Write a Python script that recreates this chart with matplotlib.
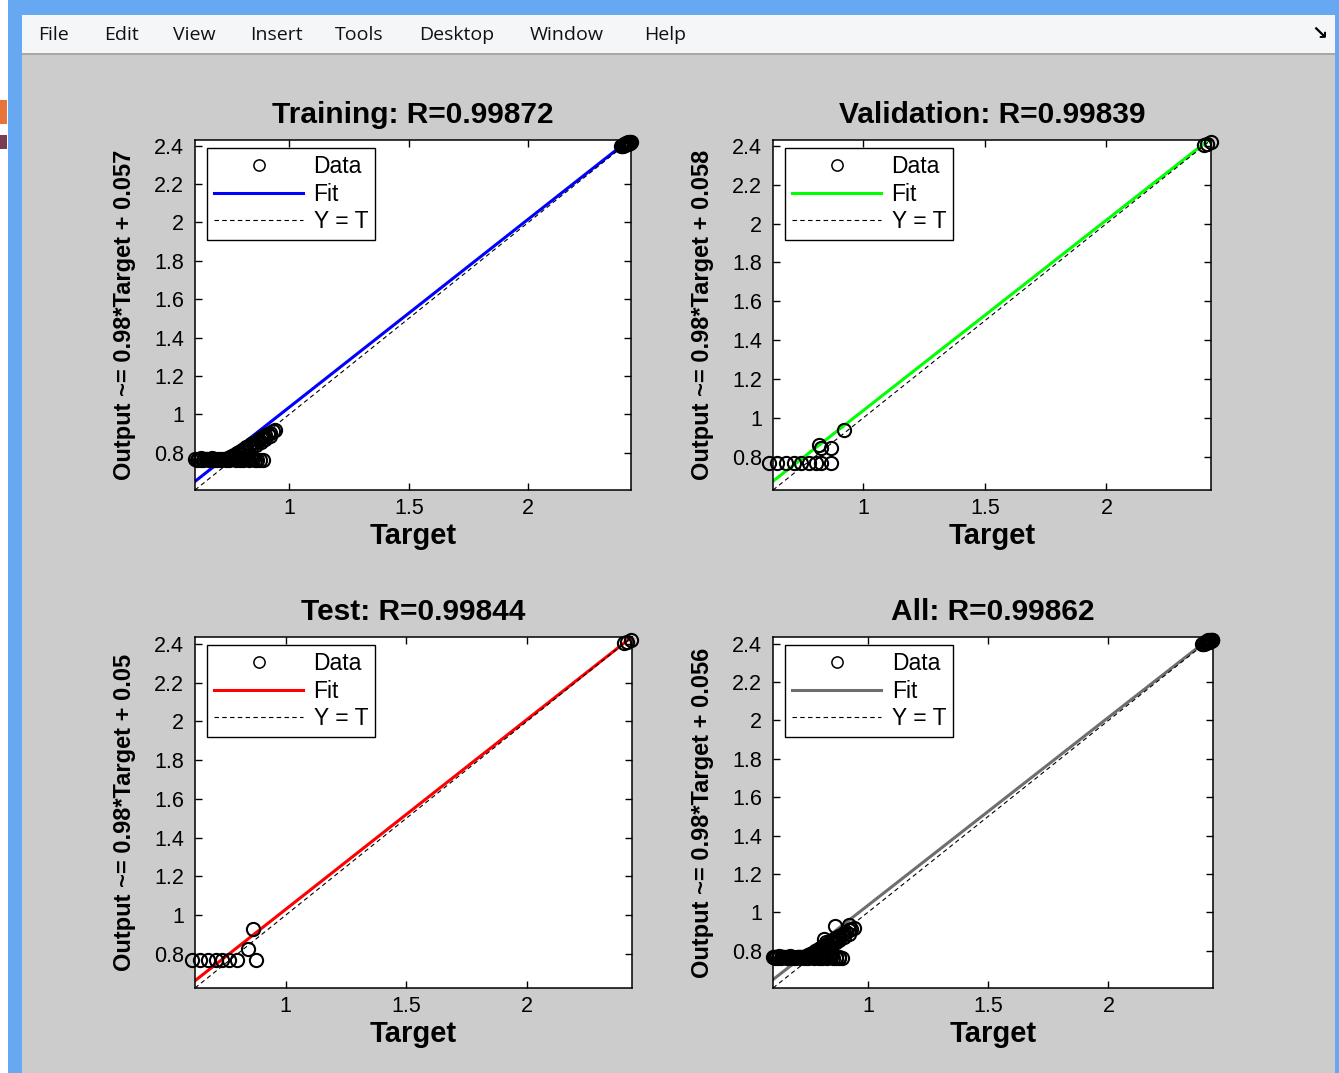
"""MATLAB-style regression plots (Training / Validation / Test / All) inside a
window frame, redrawn with matplotlib."""

import numpy as np
import matplotlib
matplotlib.use("Agg")
import matplotlib.pyplot as plt
from matplotlib.patches import Rectangle
from matplotlib.ticker import FormatStrFormatter

plt.rcParams["font.family"] = ["Liberation Sans", "DejaVu Sans"]

# ---- data ----------------------------------------------------------------
# training: flat plateau, rising band, cluster at the top end
train_t = [0.605, 0.612, 0.618, 0.625, 0.631, 0.638, 0.644, 0.651, 0.657, 0.664,
           0.670, 0.677, 0.683, 0.690, 0.697, 0.703, 0.710, 0.716, 0.723, 0.730,
           0.736, 0.743, 0.749, 0.756, 0.762, 0.769, 0.775, 0.782, 0.788, 0.795,
           0.801, 0.808, 0.815, 0.822, 0.830, 0.838, 0.846, 0.855, 0.866, 0.878,
           0.890,
           0.750, 0.760, 0.770, 0.780, 0.790, 0.800, 0.810, 0.820, 0.830, 0.840,
           0.850, 0.860, 0.870, 0.880, 0.890, 0.900, 0.910, 0.920, 0.930, 0.940,
           0.780, 0.800, 0.820, 0.840, 0.860, 0.880, 0.900, 0.920,
           2.390, 2.394, 2.398, 2.402, 2.406, 2.410, 2.414, 2.418, 2.422, 2.426,
           2.430, 2.400, 2.408, 2.416, 2.424]
train_y = [0.766, 0.762, 0.768, 0.764, 0.770, 0.763, 0.767, 0.765, 0.769, 0.762,
           0.766, 0.770, 0.764, 0.767, 0.763, 0.768, 0.765, 0.762, 0.769, 0.766,
           0.764, 0.770, 0.763, 0.767, 0.765, 0.768, 0.762, 0.766, 0.770, 0.764,
           0.767, 0.763, 0.768, 0.765, 0.762, 0.769, 0.766, 0.764, 0.760, 0.762,
           0.760,
           0.775, 0.782, 0.790, 0.797, 0.805, 0.812, 0.820, 0.828, 0.835, 0.843,
           0.851, 0.858, 0.866, 0.874, 0.882, 0.890, 0.897, 0.905, 0.912, 0.920,
           0.780, 0.795, 0.810, 0.825, 0.840, 0.855, 0.870, 0.885,
           2.398, 2.399, 2.401, 2.403, 2.405, 2.407, 2.409, 2.411, 2.413, 2.415,
           2.418, 2.408, 2.412, 2.418, 2.422]

val_t = [0.613, 0.646, 0.683, 0.716, 0.744, 0.777, 0.806, 0.827, 0.868,
         0.818, 0.825, 0.868, 0.921, 2.400, 2.415, 2.430]
val_y = [0.768, 0.768, 0.768, 0.768, 0.768, 0.768, 0.768, 0.768, 0.768,
         0.862, 0.845, 0.845, 0.935, 2.405, 2.410, 2.418]

test_t = [0.610, 0.643, 0.676, 0.713, 0.738, 0.767, 0.800,
          0.842, 0.879, 0.863, 2.400, 2.415, 2.430]
test_y = [0.766, 0.766, 0.766, 0.766, 0.766, 0.766, 0.766,
          0.826, 0.766, 0.928, 2.405, 2.410, 2.420]

all_t = train_t + val_t + test_t
all_y = train_y + val_y + test_y

titles = ["Training: R=0.99872", "Validation: R=0.99839",
          "Test: R=0.99844", "All: R=0.99862"]
slopes = [0.98, 0.98, 0.98, 0.98]
intercepts = [0.057, 0.058, 0.05, 0.056]
intercept_txt = ["0.057", "0.058", "0.05", "0.056"]
limits = [(0.605, 2.43), (0.628, 2.43), (0.624, 2.435), (0.605, 2.435)]
fit_colors = ["#0000ff", "#00ff00", "#ff0000", "#6e6e6e"]
xticks = [1, 1.5, 2]
yticks = [0.8, 1.0, 1.2, 1.4, 1.6, 1.8, 2.0, 2.2, 2.4]
menu_items = ["File", "Edit", "View", "Insert", "Tools", "Desktop", "Window", "Help"]
menu_x = [38, 104, 173, 250, 335, 419, 530, 644]

W, H = 1339, 1073
fig = plt.figure(figsize=(W / 100, H / 100), dpi=100, facecolor="#cccccc")

# window chrome drawn in pixel space
bg = fig.add_axes([0, 0, 1, 1], zorder=-5)
bg.set_xlim(0, W); bg.set_ylim(H, 0); bg.axis("off")
bg.add_patch(Rectangle((0, 0), 8, H, color="white", lw=0))
bg.add_patch(Rectangle((0, 100), 7, 24, color="#e8743b", lw=0))
bg.add_patch(Rectangle((0, 135), 7, 14, color="#7a3b55", lw=0))
bg.add_patch(Rectangle((8, 0), W - 8, 15, color="#66a8f2", lw=0))
bg.add_patch(Rectangle((8, 0), 14, H, color="#66a8f2", lw=0))
bg.add_patch(Rectangle((1335, 0), 4, H, color="#66a8f2", lw=0))
bg.add_patch(Rectangle((22, 15), 1313, 38, color="#f5f6f8", lw=0))
bg.add_patch(Rectangle((22, 53), 1313, 2, color="#a8a8a8", lw=0))
for name, mx in zip(menu_items, menu_x):
    bg.text(mx, 35, name, fontsize=14, va="center", ha="left", color="#111111",
            family=["Open Sans", "DejaVu Sans"])
bg.text(1320, 34, "\u2198", fontsize=14, fontweight="bold", va="center",
        ha="center", color="black", family="DejaVu Sans")

positions = [[0.1456, 0.5433, 0.3256, 0.3262],
             [0.5773, 0.5433, 0.3271, 0.3262],
             [0.1456, 0.0792, 0.3264, 0.3271],
             [0.5773, 0.0792, 0.3286, 0.3271]]
targets = [train_t, val_t, test_t, all_t]
outputs = [train_y, val_y, test_y, all_y]

for i in range(4):
    ax = fig.add_axes(positions[i])
    lo, hi = limits[i]
    t = np.array(targets[i]); y = np.array(outputs[i])
    ax.plot(t, y, "o", mfc="none", mec="black", ms=9.5, mew=1.5,
            clip_on=False, zorder=3, label="Data")
    xs = np.array([lo, hi])
    ax.plot(xs, slopes[i] * xs + intercepts[i], "-", color=fit_colors[i],
            lw=2.2, zorder=2, label="Fit")
    ax.plot(xs, xs, "--", color="black", lw=0.8, dashes=(4, 3), zorder=2,
            label="Y = T")
    ax.set_xlim(lo, hi); ax.set_ylim(lo, hi)
    ax.set_xticks(xticks); ax.set_yticks(yticks)
    ax.xaxis.set_major_formatter(FormatStrFormatter("%g"))
    ax.yaxis.set_major_formatter(FormatStrFormatter("%g"))
    ax.tick_params(direction="in", top=True, right=True, length=5, width=1,
                   labelsize=15.5, pad=6)
    ax.tick_params(axis="y", pad=8)
    for s in ax.spines.values():
        s.set_linewidth(1.1)
    ax.set_title(titles[i], fontsize=21.5, fontweight="bold", pad=12)
    ax.set_xlabel("Target", fontsize=21, fontweight="bold", labelpad=2)
    ax.set_ylabel("Output ~= %g*Target + %s" % (slopes[i], intercept_txt[i]),
                  fontsize=17, fontweight="bold", labelpad=13)
    leg = ax.legend(loc="upper left", bbox_to_anchor=(0.0275, 0.977),
                    borderaxespad=0, fontsize=16.5, fancybox=False,
                    framealpha=1, edgecolor="black", handlelength=3.9,
                    handletextpad=0.45, labelspacing=0.2, borderpad=0.3,
                    markerscale=0.85)
    leg.get_frame().set_linewidth(1.0)
    leg.legend_handles[0].set_markeredgewidth(1.1)

fig.savefig("out.png", dpi=100, facecolor=fig.get_facecolor())
